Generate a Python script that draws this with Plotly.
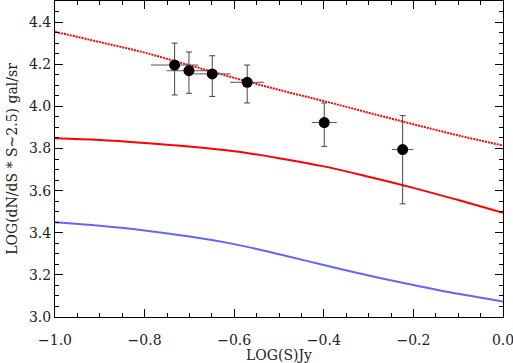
import plotly.graph_objects as go

# model curves
curve_x = [-1.0, -0.9, -0.8, -0.7, -0.6, -0.5, -0.4, -0.3, -0.2, -0.1, 0.0]
dotted_red = [4.354, 4.305, 4.255, 4.195, 4.135, 4.078, 4.025, 3.97, 3.915, 3.862, 3.814]
solid_red = [3.848, 3.840, 3.826, 3.809, 3.787, 3.754, 3.715, 3.666, 3.613, 3.555, 3.495]
solid_blue = [3.450, 3.433, 3.411, 3.382, 3.346, 3.298, 3.247, 3.197, 3.152, 3.110, 3.074]

# measured counts
obs_x = [-0.733, -0.701, -0.649, -0.571, -0.399, -0.224]
obs_y = [4.196, 4.169, 4.154, 4.114, 3.923, 3.795]
obs_err_up = [0.104, 0.089, 0.086, 0.082, 0.093, 0.161]
obs_err_down = [0.142, 0.107, 0.107, 0.098, 0.113, 0.258]
obs_xerr = [0.053, 0.05, 0.041, 0.038, 0.028, 0.024]

FONT = "DejaVu Serif"
TXT = dict(family=FONT, size=14, color="#222222")

fig = go.Figure()
fig.add_trace(go.Scatter(x=curve_x, y=dotted_red, mode="lines",
                         line=dict(color="#ff0000", width=2, dash="2px,1px", shape="spline")))
fig.add_trace(go.Scatter(x=curve_x, y=solid_red, mode="lines",
                         line=dict(color="#ff0000", width=2, shape="spline")))
fig.add_trace(go.Scatter(x=curve_x, y=solid_blue, mode="lines",
                         line=dict(color="#6464ff", width=2, shape="spline")))
fig.add_trace(go.Scatter(x=obs_x, y=obs_y, mode="markers",
                         marker=dict(color="black", size=11),
                         error_y=dict(type="data", symmetric=False, array=obs_err_up,
                                      arrayminus=obs_err_down, color="#444444",
                                      thickness=1, width=3),
                         error_x=dict(type="data", array=obs_xerr, color="#555555",
                                      thickness=1, width=0)))

axis_common = dict(showline=True, linecolor="black", linewidth=1, mirror="ticks",
                   ticks="inside", ticklen=8, tickcolor="black", showgrid=False,
                   zeroline=False, tickfont=TXT, automargin=False,
                   ticklabeloverflow="allow",
                   minor=dict(dtick=0.05, ticks="inside", ticklen=4, tickcolor="black"))

fig.update_xaxes(range=[-1.0, 0.0], dtick=0.2, tickformat=".1f", ticklabelstandoff=10,
                 title=dict(text="LOG(S)Jy", font=TXT, standoff=0),
                 **axis_common)
fig.update_yaxes(range=[3.0, 4.5], dtick=0.2, tick0=3.0, tickformat=".1f",
                 title=dict(text="LOG(dN/dS * S~2.5) gal/sr", font=TXT, standoff=8),
                 **axis_common)

fig.update_layout(width=513, height=363, showlegend=False,
                  margin=dict(l=55, r=10, t=1, b=46),
                  plot_bgcolor="white", paper_bgcolor="white")

# drop the page's default body margin so the figure sits at the window corner
fig.write_html("out.html", config={"displayModeBar": False},
               post_script="document.body.style.margin='0';")
